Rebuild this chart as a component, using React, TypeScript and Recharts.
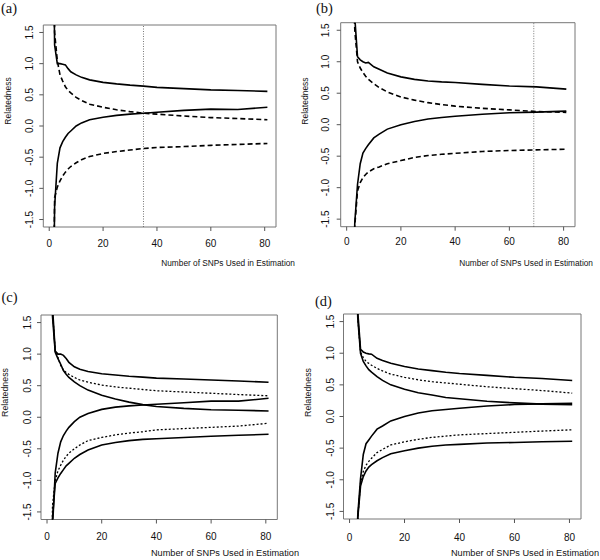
import React from 'react';
import { LineChart, Line, XAxis, YAxis, ReferenceLine, ReferenceArea } from 'recharts';

const xs = [1, 2, 3, 4, 5, 6, 7, 8, 10, 12, 15, 20, 25, 30, 35, 40, 50, 60, 70, 81];
const xTicks = [0, 20, 40, 60, 80];
const yTicks = [-1.5, -1.0, -0.5, 0, 0.5, 1.0, 1.5];
const panelLabels = ['(a)', '(b)', '(c)', '(d)'];
const xTitle = 'Number of SNPs Used in Estimation';
const yTitle = 'Relatedness';
const cutoffA = 35;
const cutoffB = 69;

// panel (a)
const aUpperSolid = [5, 1.3, 1.0, 1.0, 0.99, 0.98, 0.92, 0.87, 0.82, 0.78, 0.74, 0.70, 0.675, 0.655, 0.64, 0.62, 0.60, 0.58, 0.57, 0.555];
const aLowerSolid = [-5, -1.3, -0.6, -0.35, -0.25, -0.18, -0.12, -0.08, 0.0, 0.05, 0.10, 0.14, 0.17, 0.19, 0.205, 0.22, 0.25, 0.27, 0.265, 0.30];
const aUpperDashed = [5, 1.5, 1.05, 0.82, 0.72, 0.63, 0.57, 0.53, 0.46, 0.41, 0.35, 0.30, 0.26, 0.23, 0.205, 0.19, 0.16, 0.135, 0.12, 0.10];
const aLowerDashed = [-5, -1.15, -0.98, -0.88, -0.80, -0.74, -0.69, -0.65, -0.59, -0.54, -0.49, -0.44, -0.41, -0.385, -0.36, -0.345, -0.33, -0.31, -0.295, -0.28];

// panel (b)
const bUpperSolid = [6, 3, 1.7, 1.08, 1.03, 1.0, 0.98, 0.99, 0.92, 0.88, 0.82, 0.76, 0.72, 0.695, 0.68, 0.67, 0.64, 0.615, 0.60, 0.565];
const bLowerSolid = [-6, -3, -1.55, -0.95, -0.62, -0.45, -0.38, -0.32, -0.21, -0.15, -0.07, 0.0, 0.05, 0.09, 0.115, 0.135, 0.165, 0.19, 0.20, 0.215];
const bUpperDashed = [6, 3, 1.5, 1.0, 0.9, 0.83, 0.77, 0.72, 0.65, 0.59, 0.52, 0.44, 0.39, 0.35, 0.32, 0.295, 0.26, 0.235, 0.21, 0.195];
const bLowerDashed = [-6, -3, -1.6, -1.05, -0.92, -0.84, -0.79, -0.75, -0.70, -0.67, -0.62, -0.57, -0.52, -0.49, -0.47, -0.455, -0.425, -0.41, -0.40, -0.39];

// panel (c)
const cUpperOuter = [5, 1.75, 1.05, 1.0, 1.0, 0.98, 0.93, 0.87, 0.80, 0.76, 0.725, 0.69, 0.67, 0.65, 0.635, 0.62, 0.605, 0.59, 0.575, 0.555];
const cUpperDotted = [5, 1.7, 1.05, 0.95, 0.82, 0.75, 0.71, 0.68, 0.63, 0.59, 0.555, 0.51, 0.48, 0.46, 0.44, 0.42, 0.40, 0.38, 0.36, 0.34];
const cInnerDown = [5, 1.6, 1.03, 0.93, 0.84, 0.74, 0.68, 0.63, 0.56, 0.50, 0.43, 0.35, 0.29, 0.24, 0.20, 0.17, 0.14, 0.12, 0.11, 0.10];
const cInnerUp = [-5, -1.75, -0.88, -0.57, -0.39, -0.29, -0.22, -0.16, -0.07, 0.0, 0.06, 0.125, 0.16, 0.18, 0.195, 0.205, 0.23, 0.255, 0.255, 0.30];
const cLowerDotted = [-5, -1.4, -1.0, -0.85, -0.76, -0.68, -0.62, -0.57, -0.50, -0.44, -0.37, -0.32, -0.28, -0.25, -0.23, -0.20, -0.18, -0.16, -0.14, -0.095];
const cLowerOuter = [-5, -1.6, -1.05, -0.96, -0.89, -0.83, -0.77, -0.73, -0.65, -0.59, -0.52, -0.44, -0.40, -0.37, -0.35, -0.34, -0.32, -0.30, -0.285, -0.27];

// panel (d)
const dUpperOuter = [6, 3, 1.65, 1.06, 1.02, 1.0, 0.99, 0.985, 0.92, 0.885, 0.84, 0.79, 0.75, 0.725, 0.70, 0.68, 0.65, 0.62, 0.60, 0.57];
const dUpperDotted = [6, 3, 1.55, 1.02, 0.93, 0.87, 0.84, 0.81, 0.76, 0.72, 0.67, 0.62, 0.58, 0.55, 0.53, 0.51, 0.47, 0.44, 0.41, 0.37];
const dInnerDown = [6, 3, 1.55, 1.0, 0.87, 0.8, 0.74, 0.70, 0.63, 0.57, 0.50, 0.43, 0.375, 0.34, 0.30, 0.28, 0.24, 0.215, 0.195, 0.185];
const dInnerUp = [-6, -3, -1.55, -0.98, -0.6, -0.43, -0.37, -0.31, -0.2, -0.15, -0.07, 0.0, 0.055, 0.09, 0.11, 0.13, 0.165, 0.19, 0.20, 0.21];
const dLowerDotted = [-6, -3, -1.6, -1.05, -0.87, -0.77, -0.71, -0.66, -0.57, -0.52, -0.45, -0.40, -0.36, -0.33, -0.31, -0.29, -0.27, -0.25, -0.23, -0.21];
const dLowerOuter = [-6, -3, -1.6, -1.1, -0.95, -0.86, -0.80, -0.76, -0.70, -0.65, -0.59, -0.54, -0.50, -0.47, -0.45, -0.44, -0.42, -0.41, -0.40, -0.39];

const X_DOMAIN: [number, number] = [-2.2, 84.2];
const Y_DOMAIN: [number, number] = [-1.62, 1.62];
const SANS = '"Liberation Sans", Arial, Helvetica, sans-serif';
const SERIF = '"Liberation Serif", "DejaVu Serif", serif';

type Style = 'solid' | 'dashed' | 'dotted';
type SeriesDef = { values: number[]; style: Style };

type PanelDef = {
  left: number; top: number;
  L: number; R: number; T: number; B: number;
  xMargin: number; yMargin: number;
  series: SeriesDef[];
  cutoff?: number;
};

const panels: PanelDef[] = [
  {
    left: 0, top: 0, L: 43.3, R: 276, T: 25, B: 227, xMargin: 15.6, yMargin: 6.7, cutoff: cutoffA,
    series: [
      { values: aUpperSolid, style: 'solid' },
      { values: aLowerSolid, style: 'solid' },
      { values: aUpperDashed, style: 'dashed' },
      { values: aLowerDashed, style: 'dashed' },
    ],
  },
  {
    left: 300, top: 0, L: 40.7, R: 275, T: 22.7, B: 226.7, xMargin: 14.6, yMargin: 8.1, cutoff: cutoffB,
    series: [
      { values: bUpperSolid, style: 'solid' },
      { values: bLowerSolid, style: 'solid' },
      { values: bUpperDashed, style: 'dashed' },
      { values: bLowerDashed, style: 'dashed' },
    ],
  },
  {
    left: 0, top: 280, L: 41, R: 277.3, T: 35, B: 239.5, xMargin: 16.8, yMargin: 5.7,
    series: [
      { values: cUpperOuter, style: 'solid' },
      { values: cUpperDotted, style: 'dotted' },
      { values: cInnerDown, style: 'solid' },
      { values: cInnerUp, style: 'solid' },
      { values: cLowerDotted, style: 'dotted' },
      { values: cLowerOuter, style: 'solid' },
    ],
  },
  {
    left: 300, top: 280, L: 43.5, R: 281, T: 34, B: 239, xMargin: 17.9, yMargin: 5.9,
    series: [
      { values: dUpperOuter, style: 'solid' },
      { values: dUpperDotted, style: 'dotted' },
      { values: dInnerDown, style: 'solid' },
      { values: dInnerUp, style: 'solid' },
      { values: dLowerDotted, style: 'dotted' },
      { values: dLowerOuter, style: 'solid' },
    ],
  },
];

const XTick = (props: any) => {
  const { x, y, payload } = props;
  return (
    <text x={x} y={y} textAnchor="middle" fontSize={10} fontFamily={SANS} fill="#111">
      {String(payload.value)}
    </text>
  );
};

const YTick = (props: any) => {
  const { x, y, payload } = props;
  return (
    <text x={x} y={y} transform={`rotate(-90 ${x} ${y})`} textAnchor="middle" fontSize={10} fontFamily={SANS} fill="#111">
      {Number(payload.value).toFixed(1)}
    </text>
  );
};

function Panel({ p }: { p: PanelDef }) {
  const rows = xs.map((x, i) => {
    const r: any = { x };
    p.series.forEach((s, j) => { r['s' + j] = s.values[i]; });
    return r;
  });
  return (
    <div style={{ position: 'absolute', left: p.left, top: p.top, width: 300, height: 280 }}>
      <LineChart width={300} height={280} data={rows} margin={{ top: p.T, right: 300 - p.R, bottom: 0, left: 0 }}>
        <XAxis
          dataKey="x" type="number" domain={X_DOMAIN} allowDataOverflow ticks={xTicks} interval={0}
          height={280 - p.B} axisLine={false} tickSize={4} tickMargin={p.xMargin}
          tickLine={{ stroke: '#555', strokeWidth: 1 }} tick={<XTick />}
        />
        <YAxis
          type="number" domain={Y_DOMAIN} allowDataOverflow ticks={yTicks} interval={0}
          width={p.L} axisLine={false} tickSize={4} tickMargin={p.yMargin}
          tickLine={{ stroke: '#555', strokeWidth: 1 }} tick={<YTick />}
        />
        <ReferenceArea x1={X_DOMAIN[0]} x2={X_DOMAIN[1]} y1={Y_DOMAIN[0]} y2={Y_DOMAIN[1]} fill="none" fillOpacity={0} stroke="#777" strokeWidth={1} ifOverflow="visible" />
        {p.cutoff !== undefined && (
          <ReferenceLine x={p.cutoff} stroke="#555" strokeWidth={0.8} strokeDasharray="1 1.5" />
        )}
        {p.series.map((s, j) => (
          <Line
            key={j}
            dataKey={'s' + j}
            type="linear"
            stroke="#000"
            strokeWidth={s.style === 'dotted' ? 1.3 : 1.6}
            strokeDasharray={s.style === 'dashed' ? '5 3' : s.style === 'dotted' ? '2 2' : undefined}
            dot={false}
            activeDot={false}
            isAnimationActive={false}
          />
        ))}
      </LineChart>
    </div>
  );
}

export default function App() {
  return (
    <div style={{ position: 'absolute', left: 0, top: 0, width: 600, height: 560, background: '#fff', overflow: 'hidden' }}>
      {panels.map((p, i) => <Panel key={i} p={p} />)}
      <svg width={600} height={560} style={{ position: 'absolute', left: 0, top: 0, pointerEvents: 'none' }}>
        <text x={1} y={13} fontSize={14.5} fontFamily={SERIF} fill="#111">{panelLabels[0]}</text>
        <text x={316} y={13} fontSize={14.5} fontFamily={SERIF} fill="#111">{panelLabels[1]}</text>
        <text x={1.5} y={302} fontSize={14.5} fontFamily={SERIF} fill="#111">{panelLabels[2]}</text>
        <text x={315} y={306} fontSize={14.5} fontFamily={SERIF} fill="#111">{panelLabels[3]}</text>

        <text x={11} y={101} transform="rotate(-90 11 101)" textAnchor="middle" fontSize={8.5} fontFamily={SANS} fill="#111">{yTitle}</text>
        <text x={308} y={101} transform="rotate(-90 308 101)" textAnchor="middle" fontSize={8.5} fontFamily={SANS} fill="#111">{yTitle}</text>
        <text x={8} y={392.5} transform="rotate(-90 8 392.5)" textAnchor="middle" fontSize={8.8} fontFamily={SANS} fill="#111">{yTitle}</text>
        <text x={311} y={392.5} transform="rotate(-90 311 392.5)" textAnchor="middle" fontSize={8.8} fontFamily={SANS} fill="#111">{yTitle}</text>

        <text x={295} y={266} textAnchor="end" fontSize={8.3} fontFamily={SANS} fill="#111">{xTitle}</text>
        <text x={593} y={266} textAnchor="end" fontSize={8.3} fontFamily={SANS} fill="#111">{xTitle}</text>
        <text x={299} y={556} textAnchor="end" fontSize={9.2} fontFamily={SANS} fill="#111">{xTitle}</text>
        <text x={599} y={556} textAnchor="end" fontSize={9.2} fontFamily={SANS} fill="#111">{xTitle}</text>
      </svg>
    </div>
  );
}
